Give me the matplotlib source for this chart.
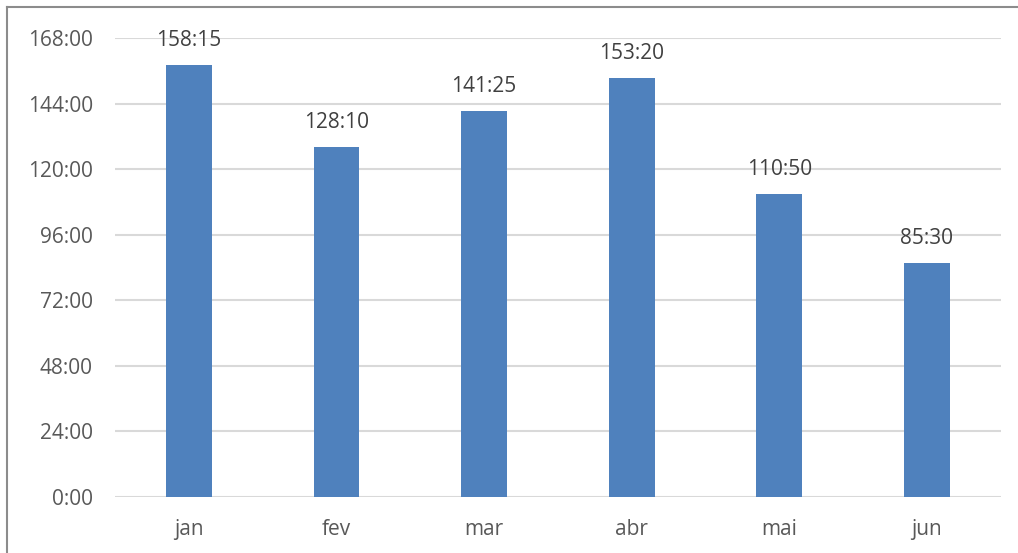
import matplotlib.pyplot as plt
from matplotlib.lines import Line2D
from matplotlib.ticker import FuncFormatter, MultipleLocator

months = ['jan', 'fev', 'mar', 'abr', 'mai', 'jun']
labels = ['158:15', '128:10', '141:25', '153:20', '110:50', '85:30']
hours = [158, 128, 141, 153, 110, 85]
minutes = [15, 10, 25, 20, 50, 30]
values = [h + m / 60 for h, m in zip(hours, minutes)]

plt.rcParams['font.family'] = ['Open Sans', 'DejaVu Sans']
text_color = '#595959'

fig = plt.figure(figsize=(10.18, 5.53), dpi=100)
ax = fig.add_axes([0.113, 0.1013, 0.870, 0.830])

x = range(len(months))
bars = ax.bar(x, values, width=0.31, color='#4F81BD', zorder=3)

# data labels above each bar
for b, lab in zip(bars, labels):
    ax.annotate(lab, (b.get_x() + b.get_width() / 2, b.get_height()),
                xytext=(0, 10), textcoords='offset points',
                ha='center', va='bottom', fontsize=15, color='#404040')

ax.set_xlim(-0.5, len(months) - 0.5)
ax.set_ylim(0, 168)
ax.yaxis.set_major_locator(MultipleLocator(24))
ax.yaxis.set_major_formatter(FuncFormatter(lambda v, p: '%d:00' % v))
ax.set_xticks(list(x))
ax.set_xticklabels(months)
ax.tick_params(axis='both', length=0, labelsize=15, colors=text_color)
ax.tick_params(axis='y', pad=16)
ax.tick_params(axis='x', pad=16)
ax.yaxis.grid(True, color='#D9D9D9', linewidth=1.5, zorder=0)
for s in ax.spines.values():
    s.set_visible(False)

# chart border (left and top visible)
fig.add_artist(Line2D([7 / 1018, 7 / 1018], [0, 1 - 7 / 553], color='#8c8c8c', linewidth=1.5))
fig.add_artist(Line2D([7 / 1018, 1], [1 - 7 / 553, 1 - 7 / 553], color='#8c8c8c', linewidth=1.5))

plt.savefig('out.png', dpi=100)
